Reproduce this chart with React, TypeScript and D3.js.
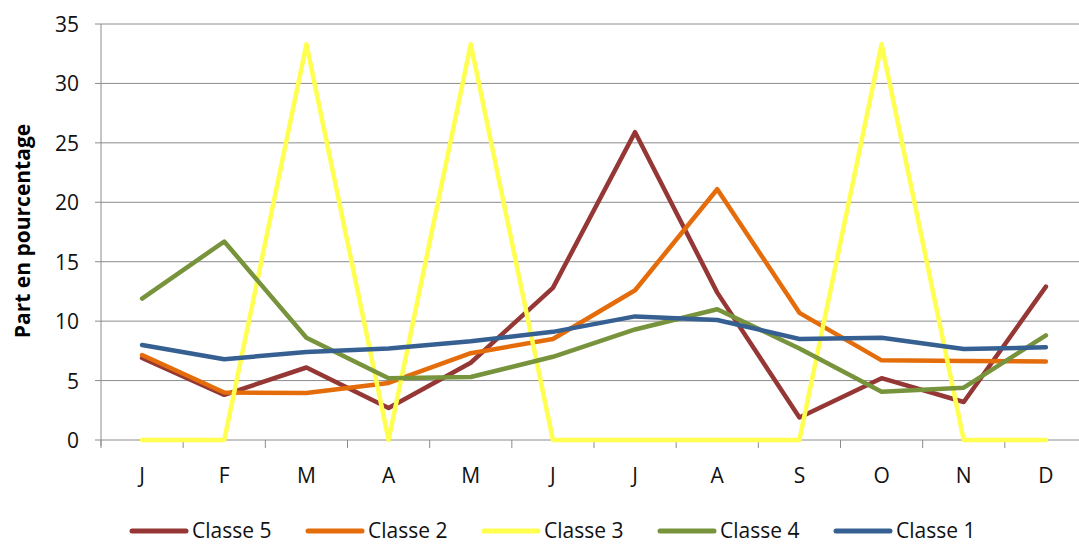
import React from "react";
import * as d3 from "d3";

const months = ["J", "F", "M", "A", "M", "J", "J", "A", "S", "O", "N", "D"];
const yTicks = [0, 5, 10, 15, 20, 25, 30, 35];

const classe5 = [6.9, 3.8, 6.1, 2.7, 6.5, 12.8, 25.9, 12.4, 1.9, 5.2, 3.2, 12.9];
const classe2 = [7.15, 4.0, 3.95, 4.8, 7.3, 8.5, 12.6, 21.1, 10.7, 6.7, 6.65, 6.6];
const classe3 = [0, 0, 33.3, 0, 33.3, 0, 0, 0, 0, 33.3, 0, 0];
const classe4 = [11.9, 16.7, 8.6, 5.2, 5.3, 7.0, 9.3, 11.0, 7.7, 4.05, 4.4, 8.8];
const classe1 = [8.0, 6.8, 7.4, 7.7, 8.3, 9.1, 10.4, 10.1, 8.5, 8.6, 7.65, 7.8];

const seriesNames = ["Classe 5", "Classe 2", "Classe 3", "Classe 4", "Classe 1"];
const seriesValues = [classe5, classe2, classe3, classe4, classe1];
const seriesColors = ["#953735", "#E46C0A", "#FFFF50", "#77933C", "#376092"];

export default function App() {
  const W = 1079;
  const H = 544;
  const left = 101;
  const right = 1087;
  const top = 24;
  const bottom = 440;

  const x = d3.scaleBand<number>().domain(d3.range(12)).range([left, right]).paddingInner(0).paddingOuter(0);
  const y = d3.scaleLinear().domain([0, 35]).range([bottom, top]);
  const line = d3
    .line<number>()
    .x((_, i) => (x(i) as number) + x.bandwidth() / 2)
    .y((d) => y(d));

  const font = "'Open Sans', 'Liberation Sans', sans-serif";
  const legend = d3.scaleLinear().domain([0, 4]).range([132, 836]);

  return (
    <svg width={W} height={H} style={{ position: "absolute", left: 0, top: 0, background: "#fff" }}>
      <rect x={0} y={0} width={W} height={H} fill="#fff" />
      {yTicks.map((t) => (
        <g key={t}>
          <line x1={95} x2={right} y1={y(t)} y2={y(t)} stroke="#8c8c8c" strokeWidth={1} />
          <text x={79} y={y(t)} textAnchor="end" dominantBaseline="central" fontFamily={font} fontSize={21} fill="#111">
            {t}
          </text>
        </g>
      ))}
      <line x1={left} x2={left} y1={top} y2={bottom + 6} stroke="#8c8c8c" strokeWidth={1} />
      {d3.range(13).map((i) => {
        const xx = i < 12 ? (x(i) as number) : right;
        return <line key={i} x1={xx} x2={xx} y1={bottom} y2={bottom + 8} stroke="#8c8c8c" strokeWidth={1} />;
      })}
      {months.map((m, i) => (
        <text key={i} x={(x(i) as number) + x.bandwidth() / 2} y={475} textAnchor="middle" dominantBaseline="central" fontFamily={font} fontSize={21} fill="#111">
          {m}
        </text>
      ))}
      <text
        transform={`translate(22,231) rotate(-90)`}
        textAnchor="middle"
        dominantBaseline="central"
        fontFamily={font}
        fontWeight="bold"
        fontSize={21}
        fill="#000"
      >
        Part en pourcentage
      </text>
      {seriesValues.map((vals, k) => (
        <path key={k} d={line(vals) as string} fill="none" stroke={seriesColors[k]} strokeWidth={4.5} strokeLinejoin="round" strokeLinecap="round" />
      ))}
      {seriesNames.map((n, k) => (
        <g key={n}>
          <line x1={legend(k)} x2={legend(k) + 54} y1={531} y2={531} stroke={seriesColors[k]} strokeWidth={5} strokeLinecap="round" />
          <text x={legend(k) + 60} y={530} dominantBaseline="central" fontFamily={font} fontSize={21} fill="#111">
            {n}
          </text>
        </g>
      ))}
    </svg>
  );
}
